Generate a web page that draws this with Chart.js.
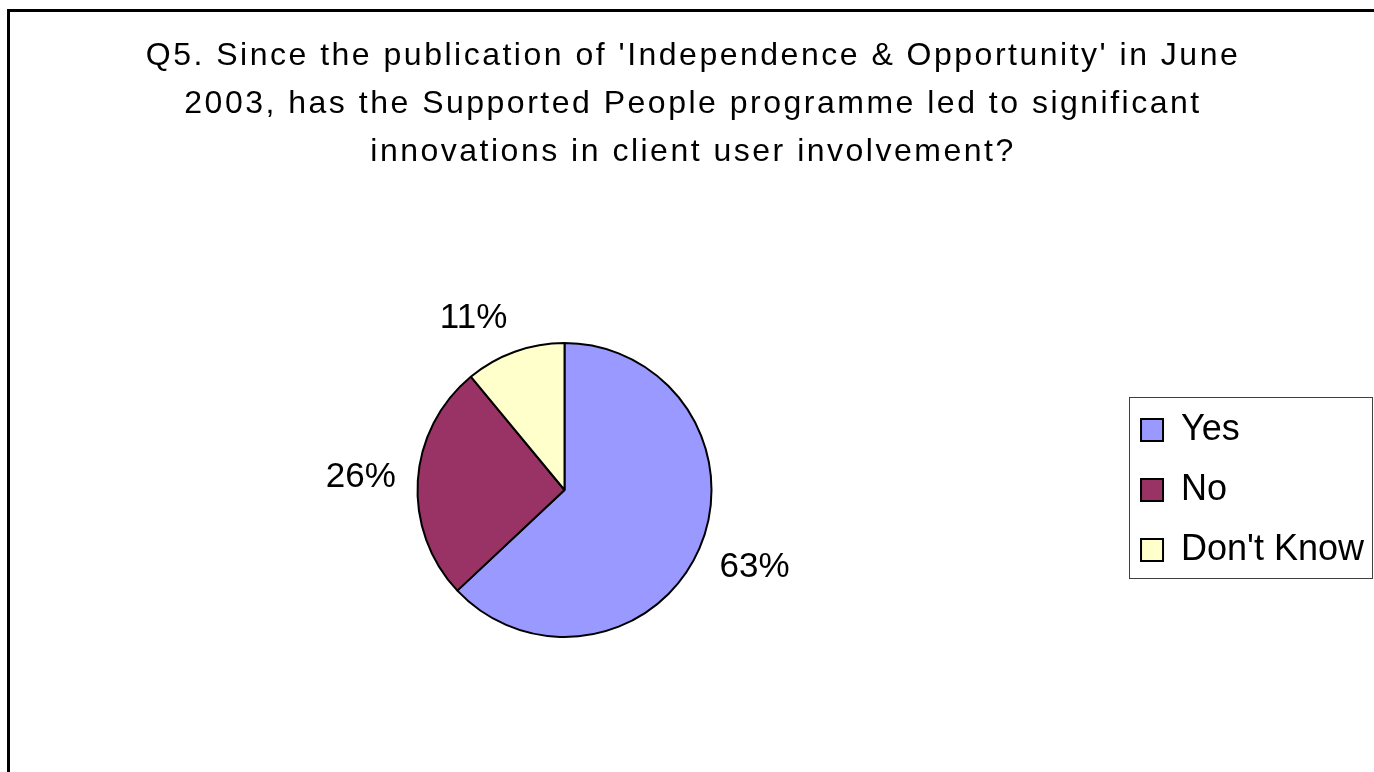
<!DOCTYPE html>
<html>
<head>
<meta charset="utf-8">
<title>Q5 client user involvement</title>
<script src="https://cdn.jsdelivr.net/npm/chart.js@4/dist/chart.umd.min.js"></script>
<style>
  html, body { margin: 0; padding: 0; background: #fff; overflow: hidden; }
  #frame {
    position: absolute; left: 7px; top: 9px; width: 1500px; height: 900px;
    border-top: 3px solid #000; border-left: 3px solid #000;
  }
  #chart { position: absolute; left: 0; top: 0; }
</style>
</head>
<body>
<div id="frame"></div>
<canvas id="chart" width="1374" height="772"></canvas>
<script>
var answers = ["Yes", "No", "Don't Know"];
var percents = [63, 26, 11];
var sliceColors = ["#9999FF", "#993366", "#FFFFCC"];
var titleLines = [
  "Q5. Since the publication of 'Independence & Opportunity' in June",
  "2003, has the Supported People programme led to significant",
  "innovations in client user involvement?"
];

var fontFamily = "'Liberation Sans', Arial, sans-serif";

function clamp1(v){
  return Math.max(-1, Math.min(1, v));
}

// percentage labels sitting just outside each slice
var sliceLabels = {
  id: 'sliceLabels',
  afterDatasetsDraw: function(chart){
    var ctx = chart.ctx;
    var meta = chart.getDatasetMeta(0);
    var data = chart.data.datasets[0].data;
    var total = data.reduce(function(a, b){ return a + b; }, 0);
    ctx.save();
    ctx.font = "35px " + fontFamily;
    ctx.fillStyle = "#000";
    ctx.textAlign = "center";
    ctx.textBaseline = "middle";
    meta.data.forEach(function(arc, i){
      var p = arc.getProps(['x', 'y', 'startAngle', 'endAngle', 'outerRadius'], true);
      var mid = (p.startAngle + p.endAngle) / 2;
      var cos = Math.cos(mid), sin = Math.sin(mid);
      var text = Math.round(data[i] / total * 100) + "%";
      var w = ctx.measureText(text).width;
      var ax = p.x + cos * (p.outerRadius + 22);
      var ay = p.y + sin * (p.outerRadius + 22);
      var cx = ax + clamp1(cos * 3) * w / 2;
      var cy = ay + clamp1(sin * 2) * 13;
      ctx.fillText(text, cx, cy);
    });
    ctx.restore();
  }
};

// the title is set a little wider than plain canvas text
var titleSpacing = {
  id: 'titleSpacing',
  beforeDraw: function(chart){
    var block = chart.titleBlock;
    if(!block || block._spaced){
      return;
    }
    var plainDraw = block.draw;
    block.draw = function(){
      chart.ctx.save();
      chart.ctx.letterSpacing = '2.5px';
      plainDraw.apply(block, arguments);
      chart.ctx.restore();
    };
    block._spaced = true;
  }
};

// thin box round the legend items
var legendFrame = {
  id: 'legendFrame',
  afterDraw: function(chart){
    var boxes = chart.legend.legendHitBoxes;
    if(!boxes || boxes.length == 0){
      return;
    }
    var first = boxes[0], last = boxes[boxes.length - 1];
    var left = first.left - 12;
    var top = first.top - 15;
    var right = Math.max.apply(null, boxes.map(function(b){ return b.left + b.width; })) + 8;
    var bottom = last.top + last.height + 10;
    var ctx = chart.ctx;
    ctx.save();
    ctx.strokeStyle = "#404040";
    ctx.lineWidth = 1;
    ctx.strokeRect(Math.round(left) + 0.5, Math.round(top) + 0.5, Math.round(right - left), Math.round(bottom - top));
    ctx.restore();
  }
};

var ctx = document.getElementById('chart').getContext('2d');
var chart = new Chart(ctx, {
  type: 'pie',
  data: {
    labels: answers,
    datasets: [{
      data: percents,
      backgroundColor: sliceColors,
      borderColor: '#000',
      borderWidth: 2
    }]
  },
  options: {
    responsive: false,
    animation: false,
    devicePixelRatio: 1,
    events: [],
    radius: 147,
    layout: { padding: { left: 12, right: 0, top: 0, bottom: 4 } },
    plugins: {
      title: {
        display: true,
        text: titleLines,
        color: '#000',
        font: { family: fontFamily, size: 32, weight: 'normal', lineHeight: 1.5 },
        padding: { top: 32, bottom: 36 }
      },
      legend: {
        position: 'right',
        fullSize: false,
        labels: {
          color: '#000',
          font: { family: fontFamily, size: 36 },
          boxWidth: 22,
          boxHeight: 22,
          padding: 24
        }
      },
      tooltip: { enabled: false }
    }
  },
  plugins: [sliceLabels, titleSpacing, legendFrame]
});
</script>
</body>
</html>
